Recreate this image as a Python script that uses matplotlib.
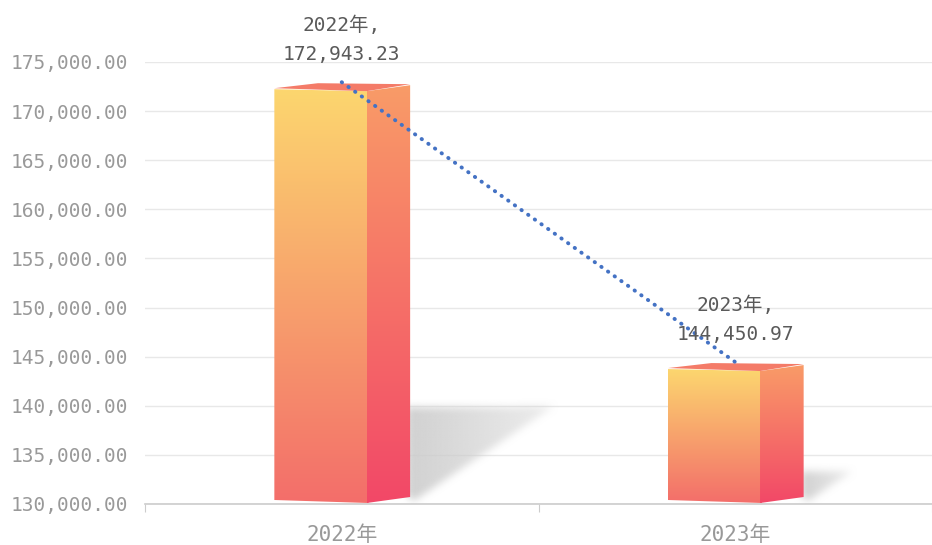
import numpy as np
import matplotlib
matplotlib.use('Agg')
import matplotlib.pyplot as plt
from matplotlib.patches import Polygon
from matplotlib.path import Path
from matplotlib.colors import to_rgb

# data
years = ['2022年', '2023年']
values = [172943.23, 144450.97]
y_ticks = list(range(130000, 175001, 5000))

plt.rcParams['font.family'] = ['DejaVu Sans Mono', 'Noto Sans CJK SC']

W, H = 932, 545
fig = plt.figure(figsize=(W / 100, H / 100), dpi=100)
ax = fig.add_axes([145 / W, 41 / H, 787 / W, 442 / H])

y0, y1 = 130000, 175000
px_x = 1 / 397            # x data units per pixel
px_y = (y1 - y0) / 442    # y data units per pixel
ax.set_xlim(-0.5, -0.5 + 787 / 397)
ax.set_ylim(y0, y1)


def grad_fill(verts, c_a, c_b, z):
    poly = Polygon(verts, closed=True, transform=ax.transData,
                   facecolor='none', edgecolor='none')
    ax.add_patch(poly)
    xs, ys = zip(*verts)
    t = np.linspace(0, 1, 128)
    a, b = np.array(to_rgb(c_a)), np.array(to_rgb(c_b))
    img = ((1 - t)[:, None] * b + t[:, None] * a)[:, None, :]
    im = ax.imshow(img, extent=[min(xs), max(xs), min(ys), max(ys)],
                   origin='lower', aspect='auto', interpolation='bilinear',
                   zorder=z)
    im.set_clip_path(poly)


def box_blur(a, r):
    k = np.ones(2 * r + 1) / (2 * r + 1)
    a = np.apply_along_axis(lambda m: np.convolve(m, k, mode='same'), 0, a)
    a = np.apply_along_axis(lambda m: np.convolve(m, k, mode='same'), 1, a)
    return a


def soft_shadow(verts, z, r=4):
    xs, ys = zip(*verts)
    mx, my = 12 * px_x, 12 * px_y
    ex = [min(xs) - mx, max(xs) + mx, min(ys) - my, max(ys) + my]
    nx = int((ex[1] - ex[0]) / px_x)
    ny = int((ex[3] - ex[2]) / px_y)
    gx, gy = np.meshgrid(np.linspace(ex[0], ex[1], nx),
                         np.linspace(ex[2], ex[3], ny))
    path = Path(verts)
    inside = path.contains_points(np.c_[gx.ravel(), gy.ravel()]).reshape(ny, nx)
    mask = box_blur(box_blur(inside.astype(float), r), r)
    fade = np.clip(1 - (gx - min(xs)) / (max(xs) - min(xs)), 0, 1)
    alpha = mask * (0.35 + 0.55 * fade)
    rgba = np.zeros((ny, nx, 4))
    rgba[..., :3] = 0.80
    rgba[..., 3] = alpha
    ax.imshow(rgba, extent=ex, origin='lower', aspect='auto',
              interpolation='bilinear', zorder=z)


for i, v in enumerate(values):
    def P(dx, y):
        return (i + dx * px_x, y)

    top_fl = v - 7 * px_y
    top_fr = v - 9 * px_y
    top_sr = v - 3 * px_y
    back = v - 1 * px_y
    bot_fl = y0 + 4 * px_y
    bot_fr = y0 + 1 * px_y
    bot_sr = y0 + 7 * px_y

    # shadow
    hpx = (v - y0) / px_y
    shadow = [P(66, bot_sr), P(66, y0 + 0.23 * hpx * px_y),
              P(69 + 0.344 * hpx, y0 + 0.232 * hpx * px_y), P(73, y0 + 3 * px_y)]
    soft_shadow(shadow, 2)

    front = [P(-68, top_fl), P(27, top_fr), P(27, bot_fr), P(-68, bot_fl)]
    side = [P(25, top_fr), P(69, top_sr), P(69, bot_sr), P(25, bot_fr)]
    top = [P(-68, top_fl + px_y), P(25, top_fr), P(69, top_sr + px_y), P(-24, back)]
    grad_fill(front, '#fcd66f', '#f36e6a', 3)
    grad_fill(side, '#f99b67', '#f24868', 3.5)
    ax.add_patch(Polygon(top, closed=True, facecolor='#f47b68',
                         edgecolor='none', zorder=4))

    ax.annotate(f"{years[i]},\n{v:,.2f}", xy=(i, v), xytext=(0, 13),
                textcoords='offset points', ha='center', va='bottom',
                fontsize=14, color='#5a5a5a', linespacing=1.7,
                annotation_clip=False, zorder=12)

ax.plot(range(len(values)), values, color='#4472c4', lw=2.8,
        linestyle=(0, (0.1, 2.0)), dash_capstyle='round', zorder=10)

ax.set_xlim(-0.5, -0.5 + 787 / 397)
ax.set_ylim(y0, y1)

ax.set_yticks(y_ticks)
ax.set_yticklabels([f"{t:,.2f}" for t in y_ticks])
ax.tick_params(axis='y', length=0, pad=12, labelsize=14, labelcolor='#999999')
ax.grid(axis='y', color='#e8e8e8', lw=1)
ax.set_axisbelow(True)

ax.set_xticks([-0.5, 0.5, 1.5])
ax.set_xticklabels(['', '', ''])
ax.set_xticks([0, 1], minor=True)
ax.set_xticklabels(years, minor=True)
ax.tick_params(axis='x', which='major', length=6, color='#cccccc')
ax.tick_params(axis='x', which='minor', length=0, pad=15, labelsize=15,
               labelcolor='#999999')

for s in ['left', 'right', 'top']:
    ax.spines[s].set_visible(False)
ax.spines['bottom'].set_color('#cccccc')
ax.spines['bottom'].set_linewidth(1.2)

fig.savefig('out.png', dpi=100)
